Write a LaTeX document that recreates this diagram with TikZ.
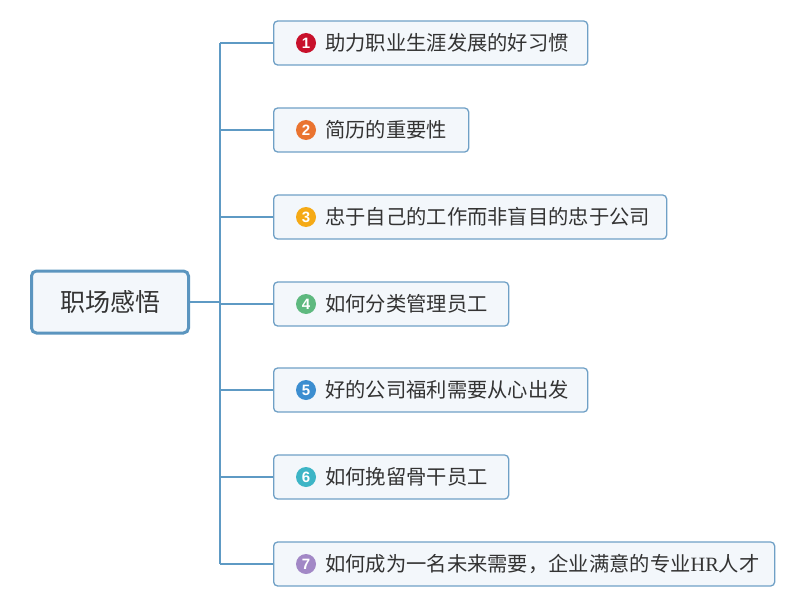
\documentclass[tikz,border=0pt]{standalone}
\usepackage{fontspec}
\setmainfont{Noto Sans CJK SC}
\newfontfamily\digitfont{Liberation Sans}
\newfontfamily\latinfont{Liberation Serif}
\definecolor{linec}{HTML}{5E9AC4}
\definecolor{boxfill}{HTML}{F3F7FB}
\definecolor{boxdraw}{HTML}{6FA0C6}
\definecolor{rootdraw}{HTML}{5B95BF}
\definecolor{txt}{HTML}{333333}
\definecolor{c1}{HTML}{C8112B}
\definecolor{c2}{HTML}{EA7430}
\definecolor{c3}{HTML}{F5AA16}
\definecolor{c4}{HTML}{5EB97F}
\definecolor{c5}{HTML}{3C8ED0}
\definecolor{c6}{HTML}{3DB5C6}
\definecolor{c7}{HTML}{A288C6}
\tikzset{
  conn/.style={draw=linec, line width=1.5pt},
  rootbox/.style={draw=rootdraw, fill=boxfill, line width=3pt, rounded corners=5pt, minimum width=157pt, minimum height=62pt, inner sep=0pt, font=\fontsize{25}{28}\selectfont, text=txt},
  childbox/.style={draw=boxdraw, fill=boxfill, line width=1.3pt, rounded corners=4pt, minimum height=44pt, inner sep=0pt, anchor=west},
  numc/.style={circle, inner sep=0pt, minimum size=20pt, text=white, font=\digitfont\bfseries\fontsize{15}{15}\selectfont},
  label/.style={anchor=west, inner sep=0pt, text=txt, font=\fontsize{20.3}{23}\selectfont}
}
\begin{document}
\begin{tikzpicture}[x=1pt,y=-1pt]
\useasboundingbox (0,0) rectangle (800,607);
\node[rootbox] (root) at (110,302) {职场感悟};
\coordinate (j) at (220,302);
\foreach \i/\w/\y/\c/\t in {
  1/314/43/c1/{助力职业生涯发展的好习惯},
  2/195/130/c2/{简历的重要性},
  3/393/217/c3/{忠于自己的工作而非盲目的忠于公司},
  4/235/304/c4/{如何分类管理员工},
  5/314/390/c5/{好的公司福利需要从心出发},
  6/235/477/c6/{如何挽留骨干员工},
  7/501/564/c7/{如何成为一名未来需要，企业满意的专业{\latinfont HR}人才}}{
  \node[childbox, minimum width=\w pt] (b\i) at (273,\y) {};
  \node[numc, fill=\c] (n\i) at (306,\y) {\i};
  \node[label] (t\i) at (325,\y) {\t};
  \draw[conn] (b\i.west) -- (b\i.west -| j);
}
\draw[conn] (root.east) -- (j);
\draw[conn] (b1.west -| j) -- (b7.west -| j);
\end{tikzpicture}
\end{document}
